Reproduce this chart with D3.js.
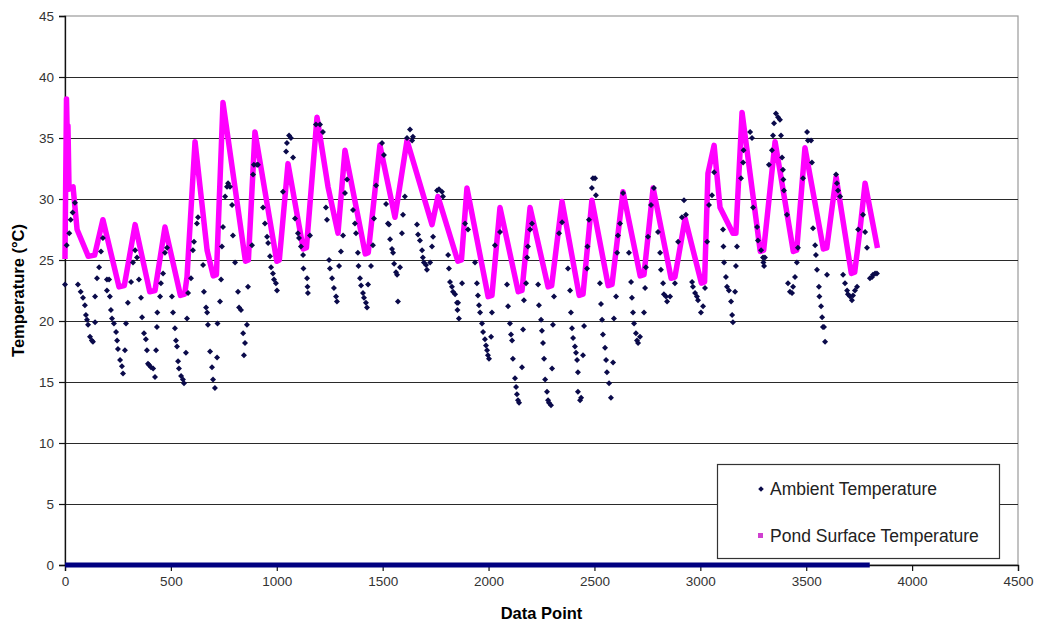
<!DOCTYPE html>
<html>
<head>
<meta charset="utf-8">
<script src="https://cdn.jsdelivr.net/npm/d3@7"></script>
<style>
  html, body { margin: 0; padding: 0; background: #fff; }
  svg { display: block; }
  text { font-family: "Liberation Sans", Arial, sans-serif; }
</style>
</head>
<body>
<svg id="chart" width="1037" height="624"></svg>
<script>
// ---------------- DATA ----------------
const seriesNames = ["Ambient Temperature", "Pond Surface Temperature"];
const xTicks = [0, 500, 1000, 1500, 2000, 2500, 3000, 3500, 4000, 4500];
const yTicks = [0, 5, 10, 15, 20, 25, 30, 35, 40, 45];

// Ambient temperature: [data point, °C]
const ambient = [
 [0,23.0],[8,26.2],[20,27.2],[27,28.3],[36,28.9],[47,29.7],[61,23.0],[74,22.4],[85,21.9],[94,21.3],
 [99,20.5],[104,20.1],[109,19.7],[118,18.7],[127,18.4],[132,18.3],[142,22.0],[142,19.9],[151,23.5],[161,24.4],
 [170,25.7],[179,26.8],[198,23.4],[208,23.4],[198,22.5],[212,22.0],[217,20.9],[222,20.2],[231,19.8],[241,19.1],
 [246,18.4],[250,17.7],[260,16.8],[269,16.3],[274,15.7],[283,17.6],[288,19.8],[297,21.5],[312,23.2],[321,24.8],
 [331,25.8],[340,25.2],[349,23.4],[359,21.9],[364,20.3],[373,19.0],[382,18.5],[387,17.6],[392,16.5],[397,16.4],
 [406,16.2],[416,16.1],[425,15.4],[430,17.6],[434,19.5],[436,20.7],[449,22.0],[453,23.1],[463,23.9],[472,25.6],
 [482,26.0],[505,22.0],[510,20.7],[519,19.4],[524,18.4],[529,17.9],[534,16.7],[538,16.1],[548,15.5],[557,15.2],
 [562,14.9],[571,17.4],[576,20.2],[581,22.3],[595,23.5],[604,25.8],[609,26.5],[623,28.0],[628,28.5],[652,24.6],
 [656,22.4],[666,21.1],[671,20.7],[675,19.7],[685,17.5],[694,16.2],[699,15.2],[708,14.5],[718,17.0],[720,19.8],
 [732,21.6],[737,23.4],[741,26.1],[746,27.7],[756,30.2],[765,31.0],[770,31.3],[779,31.0],[789,29.5],[793,27.0],
 [803,24.8],[817,22.4],[822,21.1],[831,20.9],[859,19.7],[841,19.0],[850,18.2],[845,17.2],[864,22.8],[883,26.2],
 [888,32.0],[892,32.8],[907,32.8],[911,32.8],[935,29.3],[944,28.0],[954,26.9],[959,26.4],[968,25.3],[973,24.4],
 [982,23.9],[987,23.4],[996,23.1],[1001,22.5],[1029,30.6],[1044,33.9],[1048,34.6],[1058,35.2],[1067,35.0],[1077,33.4],
 [1086,28.4],[1100,27.2],[1105,26.8],[1114,26.1],[1124,25.4],[1126,24.3],[1143,23.5],[1145,22.8],[1147,22.3],[1157,27.0],
 [1185,36.1],[1204,36.1],[1218,35.5],[1232,29.3],[1237,28.3],[1247,25.0],[1251,24.3],[1261,23.5],[1270,22.7],[1280,22.0],
 [1284,21.6],[1294,24.5],[1303,25.7],[1313,27.0],[1322,30.5],[1332,31.6],[1360,29.1],[1369,28.0],[1374,27.2],[1383,25.6],
 [1386,24.5],[1393,23.5],[1398,22.9],[1407,22.3],[1412,21.9],[1421,21.5],[1426,21.1],[1431,23.0],[1445,24.5],[1454,26.2],
 [1459,28.4],[1469,31.1],[1497,34.6],[1506,33.6],[1516,29.6],[1525,28.0],[1530,27.9],[1535,26.7],[1544,25.9],[1549,25.6],
 [1554,24.7],[1563,24.0],[1568,23.8],[1572,21.6],[1582,24.4],[1591,27.2],[1596,28.7],[1605,30.2],[1615,35.0],[1629,35.7],
 [1643,35.1],[1639,34.8],[1662,27.9],[1667,27.1],[1676,26.6],[1686,25.8],[1690,25.2],[1695,24.8],[1705,24.6],[1709,24.2],
 [1724,24.8],[1733,26.1],[1738,26.9],[1757,30.7],[1766,30.8],[1780,30.6],[1785,30.2],[1809,25.4],[1813,24.3],[1818,23.2],
 [1827,22.8],[1832,22.4],[1842,22.2],[1851,21.5],[1856,21.5],[1853,20.9],[1860,20.2],[1875,23.1],[1889,28.0],[1903,27.5],
 [1936,24.8],[1945,23.1],[1950,22.1],[1955,21.3],[1960,20.7],[1969,19.8],[1974,19.1],[1983,18.5],[1988,18.0],[1993,17.6],
 [1997,17.2],[2002,16.9],[2012,18.7],[2016,20.7],[2030,26.2],[2054,27.3],[2087,23.0],[2092,21.2],[2101,19.8],[2106,18.9],
 [2111,18.4],[2115,16.9],[2125,15.3],[2130,14.6],[2134,14.0],[2139,13.5],[2144,13.3],[2158,16.2],[2163,19.3],[2167,21.7],
 [2177,23.1],[2182,25.2],[2186,26.1],[2196,27.5],[2205,28.0],[2234,23.0],[2238,21.3],[2248,20.1],[2252,19.2],[2257,18.2],
 [2262,16.9],[2267,15.2],[2276,14.2],[2281,13.5],[2285,13.3],[2295,13.1],[2300,16.1],[2304,19.7],[2309,22.0],[2333,27.2],
 [2347,28.1],[2375,24.3],[2385,22.5],[2389,20.7],[2394,19.4],[2399,18.6],[2408,17.9],[2413,17.4],[2418,16.8],[2422,15.8],
 [2422,14.2],[2432,13.5],[2437,13.7],[2446,17.2],[2451,19.6],[2465,24.3],[2467,26.1],[2474,28.3],[2488,30.9],[2493,31.7],
 [2503,31.7],[2507,30.3],[2526,23.1],[2531,21.4],[2536,20.1],[2540,18.9],[2550,17.8],[2555,16.8],[2559,15.8],[2569,14.9],
 [2578,13.7],[2588,16.6],[2592,20.2],[2602,22.0],[2607,25.6],[2611,27.0],[2621,28.0],[2635,30.5],[2663,25.6],[2673,23.2],
 [2677,21.9],[2682,20.7],[2687,19.8],[2696,19.0],[2701,18.4],[2706,18.2],[2715,18.7],[2734,20.7],[2739,22.7],[2743,24.4],
 [2753,26.9],[2767,29.5],[2781,30.9],[2800,27.3],[2810,25.6],[2814,24.2],[2824,23.1],[2828,22.2],[2838,22.0],[2843,21.6],
 [2857,22.0],[2880,23.1],[2895,26.5],[2913,28.5],[2923,29.9],[2932,28.7],[2961,23.2],[2965,22.8],[2975,22.3],[2984,22.0],
 [2989,21.7],[3003,20.7],[3013,21.2],[3022,22.7],[3032,26.5],[3041,29.5],[3055,30.3],[3065,32.2],[3107,27.5],[3109,26.1],
 [3112,24.8],[3121,23.6],[3126,22.8],[3135,22.5],[3145,21.6],[3150,20.5],[3154,19.9],[3164,22.4],[3168,24.5],[3173,26.1],
 [3192,31.7],[3202,33.0],[3204,34.0],[3235,35.5],[3244,35.0],[3249,29.3],[3268,27.7],[3272,26.6],[3287,25.8],[3296,25.2],
 [3298,24.8],[3301,24.5],[3305,25.2],[3324,32.8],[3338,34.0],[3343,35.2],[3348,36.2],[3357,37.0],[3367,36.7],[3376,36.5],
 [3381,35.2],[3386,33.4],[3390,32.4],[3392,31.6],[3395,30.7],[3409,28.7],[3414,23.1],[3423,22.4],[3433,22.3],[3438,22.8],
 [3447,23.6],[3456,24.8],[3461,26.0],[3485,31.7],[3504,35.5],[3508,34.8],[3523,34.8],[3527,33.0],[3532,27.6],[3542,26.2],
 [3546,25.4],[3551,24.2],[3560,22.8],[3562,22.0],[3570,21.2],[3575,20.3],[3579,19.5],[3584,19.5],[3589,18.3],[3598,23.8],
 [3641,32.0],[3645,31.3],[3650,30.7],[3660,30.2],[3674,23.8],[3683,23.1],[3693,22.5],[3697,22.2],[3707,22.0],[3716,21.7],
 [3721,22.1],[3730,22.5],[3740,22.8],[3745,27.5],[3768,28.7],[3778,27.3],[3787,26.0],[3801,23.5],[3811,23.6],[3815,23.8],
 [3825,23.9],[3834,23.9]
];

// Pond surface temperature: [data point, °C] (peaks & troughs)
const pond = [
 [0,25.3],[7,38.2],[12,34.0],[14,36.0],[19,30.8],[38,31.0],[57,27.5],[110,25.3],[140,25.4],[179,28.3],[255,22.8],[280,22.9],
 [331,27.9],[400,22.4],[425,22.5],[472,27.7],[545,22.1],[565,22.2],[576,23.6],[614,34.7],[671,25.8],[700,23.7],[715,23.8],[746,37.9],[852,24.9],[866,25.0],
 [897,35.5],[1000,24.9],[1012,25.0],[1053,32.9],[1125,25.9],[1140,26.0],[1190,36.7],[1242,31.0],[1289,27.2],[1322,34.0],[1418,25.5],[1432,25.6],[1487,34.4],
 [1558,28.5],[1615,34.8],[1733,27.9],[1761,30.2],[1855,24.9],[1872,25.0],[1898,30.9],[1998,22.0],[2016,22.1],[2054,29.3],[2140,22.4],[2158,22.5],[2196,29.3],
 [2281,22.8],[2298,22.9],[2347,29.8],[2428,22.1],[2446,22.2],[2488,29.9],[2565,22.9],[2583,23.0],[2635,30.6],[2716,23.7],[2734,23.8],[2777,30.9],[2862,23.5],[2880,23.6],[2928,28.4],
 [3005,23.1],[3020,23.2],[3036,32.1],[3065,34.4],[3093,29.3],[3154,27.2],[3168,27.2],[3197,37.1],[3283,25.7],[3299,25.8],[3353,34.7],[3439,25.7],[3455,25.8],
 [3494,34.2],[3581,25.9],[3597,26.0],[3641,31.8],[3713,23.9],[3729,24.0],[3754,27.5],[3778,31.3],[3834,26.2]
];

// Series of zero readings along the x axis
const zeroSeries = [[0,0],[3800,0]];

// ---------------- CHART ----------------
const W = 1037, H = 624;
const margin = {left: 65, top: 16, right: 19, bottom: 59};
const svg = d3.select("#chart");

const x = d3.scaleLinear().domain([0, 4500]).range([margin.left, W - margin.right]);
const y = d3.scaleLinear().domain([0, 45]).range([H - margin.bottom, margin.top]);

// plot frame (top & right in gray)
svg.append("rect")
  .attr("x", x(0)).attr("y", y(45))
  .attr("width", x(4500) - x(0)).attr("height", y(0) - y(45))
  .attr("fill", "#fff").attr("stroke", "#9a9a9a").attr("stroke-width", 1.2);

// gridlines
svg.append("g").selectAll("line")
  .data(yTicks.filter(d => d > 0 && d < 45))
  .join("line")
  .attr("x1", x(0)).attr("x2", x(4500))
  .attr("y1", d => Math.round(y(d)) + 0.5).attr("y2", d => Math.round(y(d)) + 0.5)
  .attr("stroke", "#2a2a2a").attr("stroke-width", 1.2);

// axes
const yAxis = d3.axisLeft(y).tickValues(yTicks).tickSize(6).tickPadding(5).tickFormat(d3.format("d"));
const gy = svg.append("g").attr("transform", `translate(${x(0)},0)`).call(yAxis);
const xAxis = d3.axisBottom(x).tickValues(xTicks).tickSize(6).tickPadding(5).tickFormat(d3.format("d"));
const gx = svg.append("g").attr("transform", `translate(0,${y(0)})`).call(xAxis);
[gy, gx].forEach(g => {
  g.select(".domain").attr("stroke", "#111").attr("stroke-width", 1.3);
  g.selectAll(".tick line").attr("stroke", "#111").attr("stroke-width", 1.2);
  g.selectAll(".tick text").attr("fill", "#333").style("font-size", "13.5px")
    .style("font-family", '"Liberation Sans", Arial, sans-serif');
});

// zero series
const line = d3.line().x(d => x(d[0])).y(d => y(d[1]));
svg.append("path").datum(zeroSeries)
  .attr("d", line).attr("fill", "none")
  .attr("stroke", "#000080").attr("stroke-width", 5);

// pond curve
const pondLine = d3.line().x(d => x(d[0])).y(d => y(d[1]));
svg.append("path").datum(pond)
  .attr("d", pondLine).attr("fill", "none")
  .attr("stroke", "#ff00ff").attr("stroke-width", 5.5)
  .attr("stroke-linejoin", "round").attr("stroke-linecap", "square");

// ambient diamonds
const diamond = (r) => `M0,${-r}L${r},0L0,${r}L${-r},0Z`;
svg.append("g").selectAll("path")
  .data(ambient)
  .join("path")
  .attr("d", diamond(3))
  .attr("transform", d => `translate(${x(d[0])},${y(d[1])})`)
  .attr("fill", "#0a0a4a");

// axis titles
svg.append("text")
  .attr("x", (x(0) + x(4500)) / 2).attr("y", 619)
  .attr("text-anchor", "middle")
  .style("font-weight", "bold").style("font-size", "16.5px")
  .text("Data Point");
svg.append("text")
  .attr("transform", `translate(24,${(y(0) + y(45)) / 2}) rotate(-90)`)
  .attr("text-anchor", "middle")
  .style("font-weight", "bold").style("font-size", "16.5px")
  .text("Temperature (°C)");

// legend
const lg = svg.append("g");
lg.append("rect")
  .attr("x", 717.5).attr("y", 464.5).attr("width", 282).attr("height", 94)
  .attr("fill", "#fff").attr("stroke", "#333").attr("stroke-width", 1.2);
lg.append("path").attr("d", diamond(2.8))
  .attr("transform", "translate(761,489)").attr("fill", "#0a0a4a");
lg.append("rect").attr("x", 758).attr("y", 533).attr("width", 5).attr("height", 5)
  .attr("fill", "#d040d0");
lg.selectAll("text.leg").data(seriesNames).join("text")
  .attr("class", "leg")
  .attr("x", 770).attr("y", (d, i) => i === 0 ? 495 : 542)
  .style("font-size", "17.5px").attr("fill", "#222")
  .text(d => d);
</script>
</body>
</html>
